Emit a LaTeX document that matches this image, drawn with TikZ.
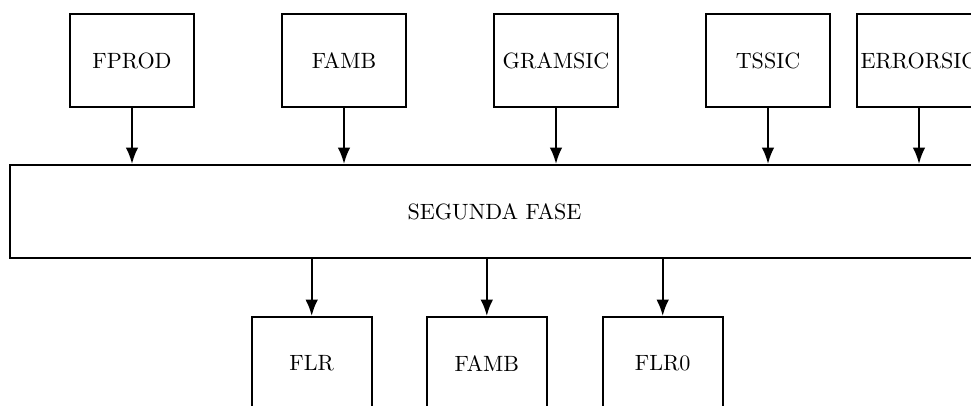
\documentclass[tikz,border=0pt]{standalone}
\usetikzlibrary{arrows.meta}
\tikzset{
  blk/.style={draw, line width=0.9pt, inner sep=0pt, minimum width=1.97cm, minimum height=1.48cm},
  outblk/.style={blk, minimum width=1.91cm},
  phase/.style={draw, line width=0.9pt, inner sep=0pt, minimum width=15.41cm, minimum height=1.48cm},
  flow/.style={line width=0.9pt, -{Latex[length=2.6mm, width=2mm]}}
}
\begin{document}
\begin{tikzpicture}[x=0.0159cm, y=-0.0159cm]
  \clip (0,0) rectangle (971,405);
  % input files
  \node[blk] (fprod) at (132,60.5) {FPROD};
  \node[blk] (famb)  at (344,60.5) {FAMB};
  \node[blk] (gram)  at (556,60.5) {GRAMSIC};
  \node[blk] (tssic) at (768,60.5) {TSSIC};
  \node[blk] (err)   at (919,60.5) {ERRORSIC};
  % second phase
  \node[phase] (seg) at (494.5,211.5) {SEGUNDA FASE};
  % output files
  \node[outblk] (flr)   at (311.7,363.5) {FLR};
  \node[outblk] (famb2) at (486.8,363.5) {FAMB};
  \node[outblk] (flr0)  at (662.7,363.5) {FLR0};
  % connectors
  \foreach \n in {fprod,famb,gram,tssic,err}
    \draw[flow] (\n.south) -- (\n.south |- seg.north);
  \foreach \n in {flr,famb2,flr0}
    \draw[flow] (\n.north |- seg.south) -- (\n.north);
\end{tikzpicture}
\end{document}
